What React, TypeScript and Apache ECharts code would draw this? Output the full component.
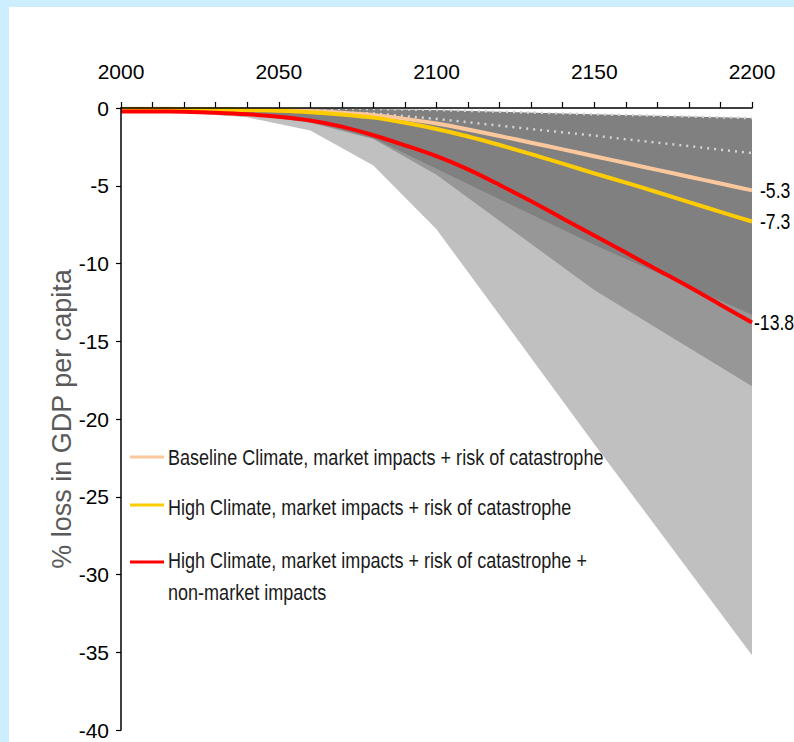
import React, { useEffect, useRef } from "react";
import * as echarts from "echarts";

// ---- data ----
const YEARS = [2000, 2010, 2020, 2030, 2040, 2050, 2060, 2070, 2080, 2090, 2100, 2110, 2120, 2130, 2140, 2150, 2160, 2170, 2180, 2190, 2200];
const BASELINE = [-0.05, -0.05, -0.06, -0.08, -0.1, -0.14, -0.2, -0.3, -0.45, -0.7, -1.0, -1.38, -1.8, -2.23, -2.66, -3.1, -3.54, -3.98, -4.42, -4.86, -5.3];
const HIGH = [-0.08, -0.08, -0.09, -0.1, -0.13, -0.18, -0.27, -0.42, -0.62, -0.95, -1.35, -1.83, -2.38, -2.97, -3.58, -4.2, -4.8, -5.42, -6.05, -6.68, -7.3];
const HIGH_NM = [-0.22, -0.22, -0.24, -0.3, -0.4, -0.56, -0.8, -1.2, -1.75, -2.4, -3.1, -3.95, -4.95, -6.0, -7.1, -8.2, -9.3, -10.4, -11.5, -12.65, -13.8];

const BAND_YEARS = [2000, 2020, 2040, 2060, 2080, 2100, 2150, 2200];
const BAND_LIGHT_LOW = [-0.05, -0.3, -0.6, -1.45, -3.7, -7.8, -21.6, -35.2];
const BAND_MED_LOW = [-0.02, -0.2, -0.4, -0.95, -2.0, -4.3, -11.7, -17.9];
const BAND_DARK_LOW = [-0.02, -0.15, -0.35, -0.85, -1.95, -3.9, -8.8, -13.3];
const BAND_TOP = [0, -0.01, -0.02, -0.03, -0.06, -0.13, -0.4, -0.65];
const DOTTED_MID = [-0.1, -0.12, -0.15, -0.2, -0.35, -0.7, -1.78, -2.9];

const X_TICKS = [2000, 2050, 2100, 2150, 2200];
const Y_MIN = -40;
const Y_MAX = 0;

const SERIES_NAMES = [
  "Baseline Climate, market impacts + risk of catastrophe",
  "High Climate, market impacts + risk of catastrophe",
  "High Climate, market impacts + risk of catastrophe +\nnon-market impacts",
];
const Y_TITLE = "% loss in GDP per capita";

// ---- styles ----
const COLORS = ["#fbc89e", "#ffcc00", "#ff0000"];
const REG = "'Liberation Sans', Arial, sans-serif";
const END_LABEL_GAP = [8, 8, 2];

const zip = (xs: number[], ys: number[]) => xs.map((x, i) => [x, ys[i]]);

export default function App() {
  const ref = useRef<HTMLDivElement>(null);

  useEffect(() => {
    document.body.style.margin = "0";
    if (!ref.current) return;
    const chart = echarts.init(ref.current, undefined, { renderer: "svg" });

    const band = (name: string, ys: number[], color: string) => ({
      name,
      type: "line",
      data: zip(BAND_YEARS, ys),
      showSymbol: false,
      symbol: "none",
      silent: true,
      lineStyle: { width: 0 },
      areaStyle: { color, opacity: 1 },
    });
    const dotted = (name: string, ys: number[]) => ({
      name,
      type: "line",
      data: zip(BAND_YEARS, ys),
      symbol: "none",
      silent: true,
      lineStyle: { width: 2.5, color: "#d4d4d4", type: [2, 5] },
    });
    const mainSeries = [BASELINE, HIGH, HIGH_NM];
    const main = (i: number) => ({
      name: SERIES_NAMES[i],
      type: "line",
      data: zip(YEARS, mainSeries[i]),
      smooth: 0.3,
      symbol: "none",
      lineStyle: { width: 4, color: COLORS[i] },
    });

    const legendRows = [457, 507, 560];
    const sampleRows = [457, 505, 562];
    const legend: any[] = [];
    SERIES_NAMES.forEach((n, i) => {
      legend.push({
        type: "line",
        shape: { x1: 130, y1: sampleRows[i], x2: 164, y2: sampleRows[i] },
        style: { stroke: COLORS[i], lineWidth: 3 },
        z: 100,
      });
      legend.push({
        type: "text",
        x: 168,
        y: legendRows[i] - 16,
        scaleX: 0.82,
        z: 100,
        style: {
          text: n,
          fontSize: 22,
          fontFamily: REG,
          fill: "#1a1a1a",
          lineHeight: 32,
          verticalAlign: "top",
        },
      });
    });

    chart.setOption({
      animation: false,
      backgroundColor: "transparent",
      grid: { left: 121, top: 108, right: 42, bottom: 12, containLabel: false },
      xAxis: {
        type: "value",
        position: "top",
        min: X_TICKS[0],
        max: X_TICKS[X_TICKS.length - 1],
        interval: 50,
        z: 10,
        axisLine: { show: true, onZero: false, lineStyle: { color: "#000", width: 1.5 } },
        axisTick: { show: true, length: 6, lineStyle: { color: "#000", width: 1.2 } },
        minorTick: { show: true, splitNumber: 5, length: 6, lineStyle: { color: "#000", width: 1.2 } },
        splitLine: { show: false },
        minorSplitLine: { show: false },
        axisLabel: {
          margin: 26,
          color: "#000",
          fontSize: 21,
          fontFamily: REG,
          formatter: (v: number) => String(v),
        },
      },
      yAxis: {
        type: "value",
        min: Y_MIN,
        max: Y_MAX,
        interval: 5,
        z: 10,
        name: Y_TITLE,
        nameLocation: "middle",
        nameGap: 46,
        nameMoveOverlap: false,
        nameTextStyle: { color: "#5a5a5a", fontSize: 27, fontFamily: REG },
        axisLine: { show: true, onZero: false, lineStyle: { color: "#000", width: 1.5 } },
        axisTick: { show: true, length: 5, lineStyle: { color: "#000", width: 1.2 } },
        splitLine: { show: false },
        axisLabel: { margin: 12, color: "#000", fontSize: 21, fontFamily: REG },
      },
      graphic: legend,
      series: [
        band("light", BAND_LIGHT_LOW, "#c0c0c0"),
        band("medium", BAND_MED_LOW, "#979797"),
        band("dark", BAND_DARK_LOW, "#808080"),
        band("top", BAND_TOP, "#ffffff"),
        dotted("dottedTop", BAND_TOP),
        dotted("dottedMid", DOTTED_MID),
        main(0),
        main(1),
        main(2),
      ],
    });

    // end-of-line value labels, placed through the chart's own scales
    const endLabels = mainSeries.map((ys, i) => {
      const lastYear = YEARS[YEARS.length - 1];
      const lastVal = ys[ys.length - 1];
      const [px, py] = chart.convertToPixel({ xAxisIndex: 0, yAxisIndex: 0 }, [lastYear, lastVal]) as number[];
      return {
        type: "text",
        x: px + END_LABEL_GAP[i],
        y: py,
        scaleX: 0.8,
        z: 100,
        style: {
          text: String(lastVal),
          fontSize: 22,
          fontFamily: REG,
          fill: "#000",
          verticalAlign: "middle",
        },
      };
    });
    chart.setOption({ graphic: [...legend, ...endLabels] });

    return () => chart.dispose();
  }, []);

  return (
    <div style={{ position: "relative", width: 794, height: 742, background: "#cdeeff", overflow: "hidden" }}>
      <div style={{ position: "absolute", left: 9, top: 7, right: 0, bottom: 0, background: "#ffffff" }} />
      <div ref={ref} style={{ position: "absolute", left: 0, top: 0, width: 794, height: 742 }} />
    </div>
  );
}
